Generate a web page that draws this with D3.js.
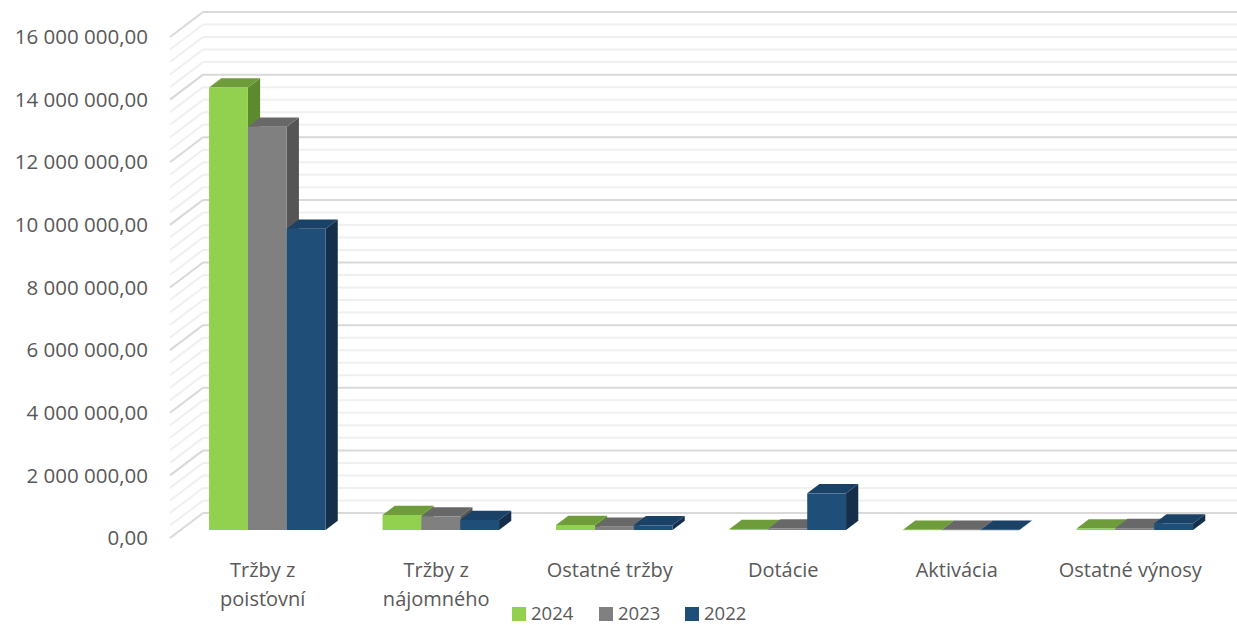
<!DOCTYPE html>
<html>
<head>
<meta charset="utf-8">
<script src="https://cdn.jsdelivr.net/npm/d3@7"></script>
<style>
  body { margin: 0; background: #fff; }
  text { font-family: "Open Sans", "Liberation Sans", sans-serif; fill: #595959; }
</style>
</head>
<body>
<div id="chart"></div>
<script>
// data
var categories = ["Tržby z poisťovní", "Tržby z nájomného", "Ostatné tržby", "Dotácie", "Aktivácia", "Ostatné výnosy"];
var years = ["2024", "2023", "2022"];
var values2024 = [14130000, 480000, 160000, 30000, 10000, 50000];
var values2023 = [12880000, 430000, 100000, 50000, 10000, 60000];
var values2022 = [9620000, 320000, 150000, 1170000, 10000, 210000];
var yTicks = [0, 2000000, 4000000, 6000000, 8000000, 10000000, 12000000, 14000000, 16000000];

var series = [values2024, values2023, values2022];
// front, top, side colours per series
var colors = [
  ["#92d050", "#6f9c3a", "#5e8a2e"],
  ["#808080", "#686868", "#555555"],
  ["#1f4e79", "#1a4166", "#152f4b"]
];

var width = 1237, height = 625;
var depthX = 33, depthY = -25;   // offset of back wall from front plane
var t0 = 0.32, t1 = 0.69;        // bar front/back depth

var svg = d3.select("#chart").append("svg")
    .attr("width", width)
    .attr("height", height);

var x = d3.scaleBand()
    .domain(categories)
    .range([170, 170 + 6 * 173.5])
    .paddingInner(0)
    .paddingOuter(0);

var xInner = d3.scaleBand()
    .domain(years)
    .range([0, 116.5]);

var y = d3.scaleLinear()
    .domain([0, 16000000])
    .range([538, 37]);

var locale = d3.formatLocale({decimal: ",", thousands: " ", grouping: [3], currency: ["", ""]});
var fmt = locale.format(",.2f");

// gridlines (minor every 400 000, major every 2 000 000)
var gridVals = d3.range(0, 16000001, 400000);
var grid = svg.append("g");
gridVals.forEach(function(v, i) {
  var major = i % 5 === 0;
  var c = major ? "#d9d9d9" : "#f0f0f0";
  grid.append("line")
      .attr("x1", 170 + depthX).attr("y1", y(v) + depthY)
      .attr("x2", width + 10).attr("y2", y(v) + depthY)
      .attr("stroke", c).attr("stroke-width", 2);
  grid.append("line")
      .attr("x1", 170).attr("y1", y(v))
      .attr("x2", 170 + depthX).attr("y2", y(v) + depthY)
      .attr("stroke", c).attr("stroke-width", 2);
});

// y axis labels
svg.append("g").selectAll("text")
    .data(yTicks)
    .enter().append("text")
    .attr("x", 148)
    .attr("y", d => y(d))
    .attr("dy", "0.35em")
    .attr("text-anchor", "end")
    .style("font-size", "20.5px")
    .text(d => fmt(d));

// bars
var ddx = (t1 - t0) * depthX, ddy = (t1 - t0) * depthY;
categories.forEach(function(cat, ci) {
  var g = svg.append("g");
  series.forEach(function(vals, si) {
    var x0 = x(cat) + 28.5 + xInner(years[si]) + t0 * depthX;
    var x1 = x0 + xInner.bandwidth();
    var yt = y(vals[ci]) + t0 * depthY;
    var yb = y(0) + t0 * depthY;
    var col = colors[si];
    // side
    g.append("polygon")
        .attr("points", [[x1, yt], [x1 + ddx, yt + ddy], [x1 + ddx, yb + ddy], [x1, yb]].join(" "))
        .attr("fill", col[2]);
    // top
    g.append("polygon")
        .attr("points", [[x0, yt], [x1, yt], [x1 + ddx, yt + ddy], [x0 + ddx, yt + ddy]].join(" "))
        .attr("fill", col[1]);
    // front
    g.append("rect")
        .attr("x", x0).attr("y", yt)
        .attr("width", x1 - x0).attr("height", Math.max(0.5, yb - yt))
        .attr("fill", col[0]);
  });
});

// category labels, wrapped
var catG = svg.append("g");
categories.forEach(function(cat) {
  var t = catG.append("text")
      .attr("x", x(cat) + x.bandwidth() / 2 + 6)
      .attr("y", 577)
      .attr("text-anchor", "middle")
      .style("font-size", "20px");
  var words = cat.split(" "), line = [];
  var tspan = t.append("tspan").attr("x", t.attr("x")).attr("dy", 0);
  words.forEach(function(w) {
    line.push(w);
    tspan.text(line.join(" "));
    if (tspan.node().getComputedTextLength() > 150 && line.length > 1) {
      line.pop();
      tspan.text(line.join(" "));
      line = [w];
      tspan = t.append("tspan").attr("x", t.attr("x")).attr("dy", "1.45em").text(w);
    }
  });
});

// legend
var legX = [512, 599, 685];
var leg = svg.append("g");
years.forEach(function(yr, i) {
  leg.append("rect")
      .attr("x", legX[i]).attr("y", 607)
      .attr("width", 14).attr("height", 14)
      .attr("fill", colors[i][0]);
  leg.append("text")
      .attr("x", legX[i] + 19).attr("y", 620)
      .style("font-size", "18.5px")
      .text(yr);
});
</script>
</body>
</html>
